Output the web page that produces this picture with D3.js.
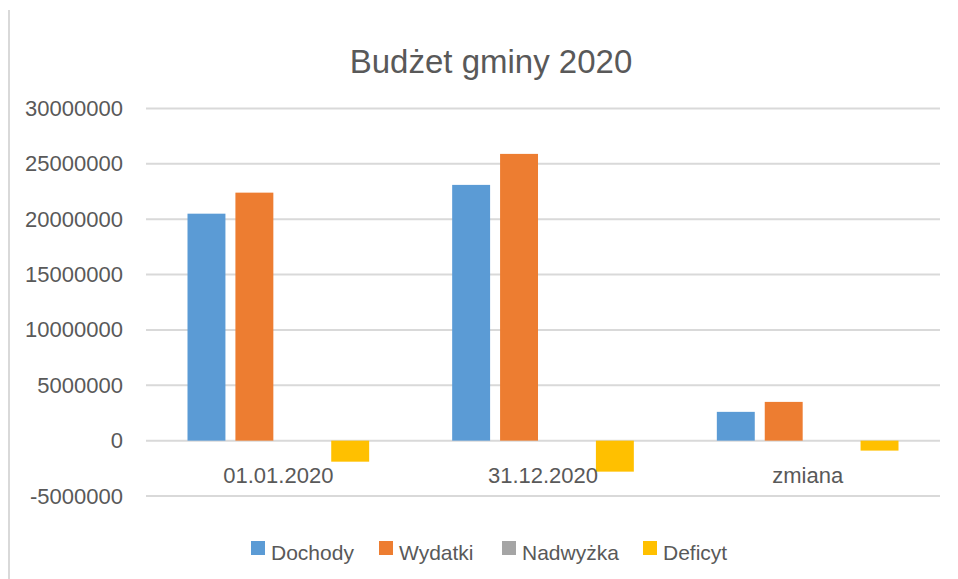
<!DOCTYPE html>
<html>
<head>
<meta charset="utf-8">
<script src="https://cdn.jsdelivr.net/npm/d3@7"></script>
<style>
  body { margin: 0; background: #fff; }
  svg { display: block; font-family: "Liberation Sans", Arial, sans-serif; }
</style>
</head>
<body>
<div id="chart"></div>
<script>
const categories = ["01.01.2020", "31.12.2020", "zmiana"];
const seriesNames = ["Dochody", "Wydatki", "Nadwyżka", "Deficyt"];
const dochody = [20500000, 23100000, 2600000];
const wydatki = [22400000, 25900000, 3500000];
const nadwyzka = [0, 0, 0];
const deficyt = [-1900000, -2800000, -900000];
const yTicks = [-5000000, 0, 5000000, 10000000, 15000000, 20000000, 25000000, 30000000];
const colors = ["#5b9bd5", "#ed7d31", "#a5a5a5", "#ffc000"];

const width = 958, height = 579;
const seriesValues = [dochody, wydatki, nadwyzka, deficyt];

const svg = d3.select("#chart").append("svg")
  .attr("width", width)
  .attr("height", height);

// left border of chart area
svg.append("line")
  .attr("x1", 9).attr("x2", 9)
  .attr("y1", 10).attr("y2", height)
  .attr("stroke", "#d9d9d9")
  .attr("stroke-width", 2);

// scales
let y = d3.scaleLinear()
  .domain([-5000000, 30000000])
  .range([496, 108.5]);

let x0 = d3.scaleBand()
  .domain(categories)
  .range([146, 940]);

let x1 = d3.scaleBand()
  .domain(seriesNames)
  .range([41.5, x0.bandwidth() - 41.5])
  .paddingInner(10 / 48);

// title
svg.append("text")
  .attr("x", 491)
  .attr("y", 73)
  .attr("text-anchor", "middle")
  .attr("fill", "#595959")
  .style("font-size", "33px")
  .text("Budżet gminy 2020");

// gridlines
svg.selectAll(".grid").data(yTicks).enter()
  .append("line")
  .attr("class", "grid")
  .attr("x1", 146)
  .attr("x2", 940)
  .attr("y1", d => y(d))
  .attr("y2", d => y(d))
  .attr("stroke", "#d9d9d9")
  .attr("stroke-width", 2);

// y axis labels (plain hyphen for negatives, like the original)
let yAxis = svg.append("g")
  .attr("transform", "translate(136,0)")
  .call(d3.axisLeft(y).tickValues(yTicks).tickFormat(d => String(d)).tickSize(0).tickPadding(13));
yAxis.select(".domain").remove();
yAxis.selectAll("text")
  .attr("fill", "#595959")
  .style("font-size", "22px")
  .style("font-family", "Liberation Sans, Arial, sans-serif");

// bars
const groups = svg.selectAll(".cat").data(categories).enter()
  .append("g")
  .attr("class", "cat")
  .attr("transform", d => "translate(" + x0(d) + ",0)");

groups.selectAll("rect")
  .data((c, i) => seriesNames.map((s, j) => ({ s: s, v: seriesValues[j][i], c: colors[j] })))
  .enter().append("rect")
  .attr("x", d => x1(d.s))
  .attr("width", x1.bandwidth())
  .attr("y", d => y(Math.max(0, d.v)))
  .attr("height", d => Math.abs(y(d.v) - y(0)))
  .attr("fill", d => d.c);

// category labels
let xAxis = svg.append("g")
  .attr("transform", "translate(0," + y(0) + ")")
  .call(d3.axisBottom(x0).tickSize(0).tickPadding(27));
xAxis.select(".domain").remove();
xAxis.selectAll("text")
  .attr("fill", "#595959")
  .style("font-size", "22px")
  .style("font-family", "Liberation Sans, Arial, sans-serif");

// legend
const legendX = [251, 379, 502, 643];
const legend = svg.selectAll(".legend").data(seriesNames).enter()
  .append("g")
  .attr("class", "legend")
  .attr("transform", (d, i) => "translate(" + legendX[i] + ",541)");

legend.append("rect")
  .attr("width", 14)
  .attr("height", 14)
  .attr("fill", (d, i) => colors[i]);

legend.append("text")
  .attr("x", 20)
  .attr("y", 19)
  .attr("fill", "#595959")
  .style("font-size", "21px")
  .text(d => d);
</script>
</body>
</html>
